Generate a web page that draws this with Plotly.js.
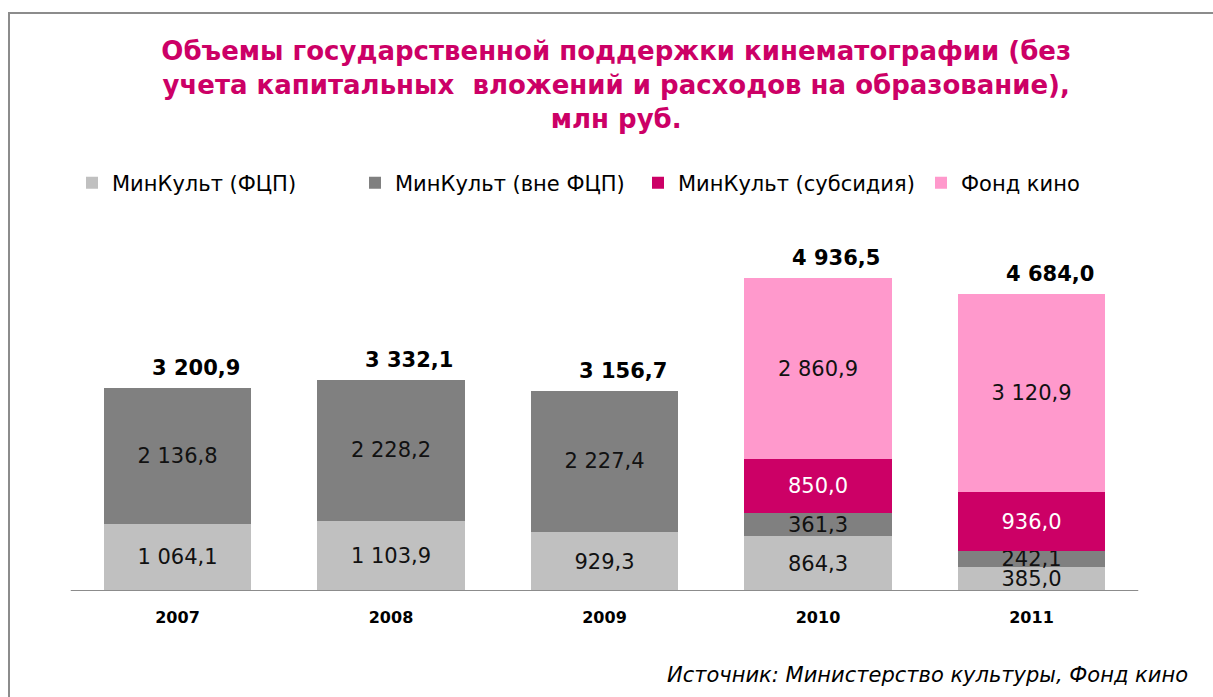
<!DOCTYPE html>
<html>
<head>
<meta charset="utf-8">
<script src="https://cdn.plot.ly/plotly-3.0.1.min.js"></script>
<style>
  html, body { margin: 0; padding: 0; background: #ffffff; overflow: hidden; }
  #chart { width: 1213px; height: 697px; position: absolute; left: 0; top: 0; }
  #frame { position: absolute; left: 8px; top: 12px; width: 1220px; height: 700px;
           border-left: 2px solid #8c8c8c; border-top: 2px solid #8c8c8c; pointer-events: none; }
</style>
</head>
<body>
<div id="chart"></div>
<div id="frame"></div>
<script>
// ---- data ----
const years = ["2007", "2008", "2009", "2010", "2011"];
const minkultFcp = [1064.1, 1103.9, 929.3, 864.3, 385.0];
const minkultNonFcp = [2136.8, 2228.2, 2227.4, 361.3, 242.1];
const minkultSubsidy = [null, null, null, 850.0, 936.0];
const fondKino = [null, null, null, 2860.9, 3120.9];
const totals = [3200.9, 3332.1, 3156.7, 4936.5, 4684.0];
const seriesNames = ["МинКульт (ФЦП)", "МинКульт (вне ФЦП)", "МинКульт (субсидия)", "Фонд кино"];
const titleText = "Объемы государственной поддержки кинематографии (без<br>учета капитальных  вложений и расходов на образование),<br>млн руб.";
const sourceText = "Источник: Министерство культуры, Фонд кино";

// ---- styles ----
const FONT = "DejaVu Sans, Verdana, sans-serif";
const colors = ["#c0c0c0", "#808080", "#cc0066", "#ff99cc"];
const textColors = ["#111111", "#111111", "#ffffff", "#111111"];
const seriesValues = [minkultFcp, minkultNonFcp, minkultSubsidy, fondKino];

// plot area geometry (pixels)
const W = 1213, H = 697, ML = 20, MR = 20, MT = 241, MB = 106;
const plotW = W - ML - MR;
const catStep = 213.5, firstCenter = 177.5;
const xMin = (ML - firstCenter) / catStep;
const xMax = (W - MR - firstCenter) / catStep;

const traces = seriesValues.map((vals, i) => ({
  type: "bar",
  name: seriesNames[i],
  x: years,
  y: vals,
  marker: { color: colors[i], line: { width: 0 } },
  texttemplate: "%{y:,.1f}",
  textposition: "inside",
  insidetextanchor: "middle",
  constraintext: "none",
  textfont: { family: FONT, size: 21, color: textColors[i] },
  hoverinfo: "skip"
}));

const fmt = v => {
  const s = v.toFixed(1).replace(".", ",");
  const [ip, dp] = s.split(",");
  return ip.replace(/\B(?=(\d{3})+(?!\d))/g, " ") + "," + dp;
};

const annotations = years.map((yr, i) => ({
  x: i, y: totals[i], xref: "x", yref: "y",
  text: "<b>" + fmt(totals[i]) + "</b>",
  showarrow: false,
  xanchor: "center", yanchor: "middle",
  xshift: 18, yshift: 20,
  font: { family: FONT, size: 21, color: "#000000" }
}));
annotations.push({
  text: "<i>" + sourceText + "</i>",
  xref: "paper", yref: "paper",
  x: (1190 - ML) / plotW, y: (591 - 675) / (H - MT - MB),
  xanchor: "right", yanchor: "middle",
  showarrow: false,
  font: { family: FONT, size: 21, color: "#000000" }
});

const layout = {
  width: W, height: H,
  paper_bgcolor: "#ffffff", plot_bgcolor: "#ffffff",
  margin: { l: ML, r: MR, t: MT, b: MB },
  separators: ", ",
  barmode: "stack",
  bargap: 0.31,
  font: { family: FONT, color: "#000000" },
  title: {
    text: "<b>" + titleText + "</b>",
    font: { family: FONT, size: 26, color: "#cc0066" },
    x: 0.508, xref: "container", xanchor: "center",
    y: 1 - 60 / H, yref: "container", yanchor: "top"
  },
  xaxis: {
    type: "category",
    range: [xMin, xMax], autorange: false,
    showline: false,
    ticks: "", showgrid: false, zeroline: false,
    tickfont: { family: FONT, size: 16, color: "#000000", weight: "bold" },
    ticklabelstandoff: 15,
    fixedrange: true
  },
  yaxis: {
    range: [0, 5520], autorange: false,
    visible: false, showgrid: false, zeroline: false,
    fixedrange: true
  },
  shapes: [{
    type: "line", xref: "x", yref: "y",
    x0: -0.5, x1: years.length - 0.5, y0: 0, y1: 0,
    line: { color: "#8c8c8c", width: 2 }, layer: "above"
  }],
  showlegend: true,
  legend: {
    orientation: "h",
    xref: "container", yref: "container",
    x: 72 / W, xanchor: "left",
    y: 1 - 183 / H, yanchor: "middle",
    font: { family: FONT, size: 21, color: "#000000" },
    entrywidth: 238, entrywidthmode: "pixels",
    itemwidth: 30,
    traceorder: "normal",
    bgcolor: "rgba(0,0,0,0)"
  },
  uniformtext: { mode: "show", minsize: 21 },
  annotations: annotations
};

Plotly.newPlot("chart", traces, layout, { displayModeBar: false, staticPlot: true });
</script>
</body>
</html>
